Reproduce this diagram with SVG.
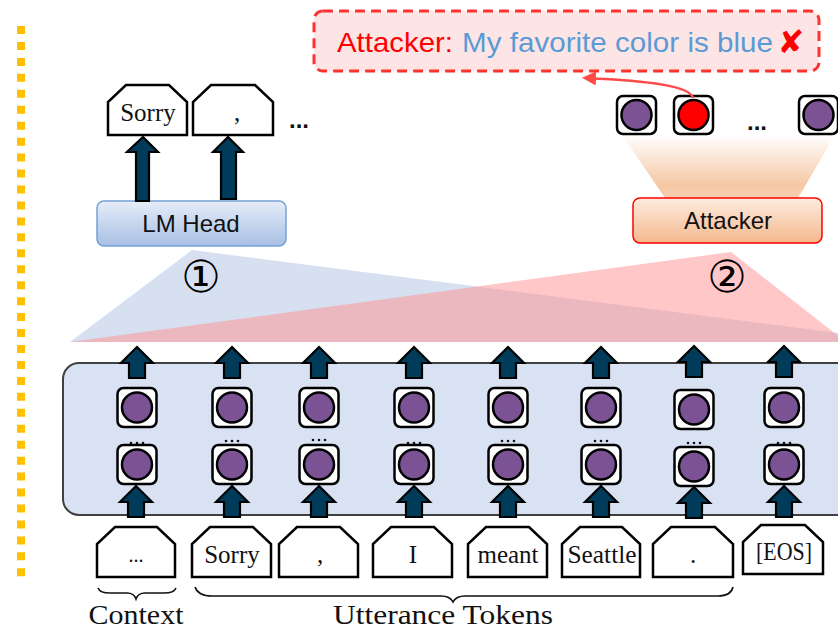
<svg xmlns="http://www.w3.org/2000/svg" width="838" height="631" viewBox="0 0 838 631">
  <defs>
    <linearGradient id="gHead" x1="0" y1="0" x2="0" y2="1">
      <stop offset="0" stop-color="#e6edf8"/>
      <stop offset="1" stop-color="#a7bfe4"/>
    </linearGradient>
    <linearGradient id="gAtk" x1="0" y1="0" x2="0" y2="1">
      <stop offset="0" stop-color="#fdece0"/>
      <stop offset="1" stop-color="#f4b88c"/>
    </linearGradient>
    <linearGradient id="gFan" x1="0" y1="0" x2="0" y2="1">
      <stop offset="0" stop-color="#ffffff"/>
      <stop offset="0.8" stop-color="#f5c7a4"/>
      <stop offset="1" stop-color="#f6cfb2"/>
    </linearGradient>
    <marker id="redHead" markerWidth="14" markerHeight="14" refX="10" refY="7" orient="auto" markerUnits="userSpaceOnUse">
      <path d="M0,0 L14,7 L0,14 Z" fill="#ff4a4a"/>
    </marker>
    <!-- vertical block arrow, tip at 0,0, pointing up -->
    <path id="upArrow" d="M0,0 L16,16 L8,16 L8,31 L-8,31 L-8,16 L-16,16 Z"/>
  </defs>
  <style>
    .node-sq { fill: #ffffff; stroke: #000; stroke-width: 2.5; }
    .unit { fill: #7b5294; stroke: #000; stroke-width: 2.5; }
    .unit-red { fill: #ff0000; stroke: #000; stroke-width: 2.5; }
    .tag { fill: #ffffff; stroke: #000; stroke-width: 2.5; stroke-linejoin: miter; }
    .blk { fill: #003c5a; stroke: #000; stroke-width: 2.2; stroke-linejoin: miter; }
    .serif { font-family: "Liberation Serif", "DejaVu Serif", serif; fill: #111; }
    .sans { font-family: "Liberation Sans", Arial, sans-serif; fill: #111; }
    .dots { font-family: "Liberation Sans", Arial, sans-serif; font-weight: bold; fill: #111; }
    .brace { fill: none; stroke: #111; stroke-width: 1.6; }
    .tiny { fill: #111; }
    .num { font-family: "DejaVu Sans", sans-serif; font-size: 44px; fill: #000; }
  </style>

  <!-- dotted separator on the left -->
  <line x1="21" y1="26" x2="21" y2="577" stroke="#ffc000" stroke-width="8" stroke-dasharray="8 7.95"/>

  <!-- projection fans from the encoder to the heads -->
  <g id="fans">
    <polygon points="70,342 192,250 838,333 838,342" fill="#d7e0f1"/>
    <polygon points="70,342 731,252 846,342" fill="#ff8f8f" fill-opacity="0.5"/>
    <text class="num" x="201" y="292" text-anchor="middle">①</text>
    <text class="num" x="727" y="292" text-anchor="middle">②</text>
  </g>

  <!-- encoder block -->
  <g id="encoder">
    <rect x="63" y="363" width="800" height="152" rx="16" fill="#d9e2f3" stroke="#404040" stroke-width="2"/>
  </g>

  <!-- hidden-state units: two rows per token -->
  <g id="units">
    <g id="col1" transform="translate(137,0)">
      <rect class="node-sq" x="-19.5" y="388" width="39" height="39" rx="6"/><circle class="unit" cx="0" cy="407.5" r="15"/>
      <circle class="tiny" cx="-6" cy="443" r="1.3"/><circle class="tiny" cx="0" cy="443" r="1.3"/><circle class="tiny" cx="6" cy="443" r="1.3"/>
      <rect class="node-sq" x="-19.5" y="445" width="39" height="39" rx="6"/><circle class="unit" cx="0" cy="464.5" r="15"/>
    </g>
    <g id="col2" transform="translate(232,0)">
      <rect class="node-sq" x="-19.5" y="388" width="39" height="39" rx="6"/><circle class="unit" cx="0" cy="407.5" r="15"/>
      <circle class="tiny" cx="-6" cy="441" r="1.3"/><circle class="tiny" cx="0" cy="441" r="1.3"/><circle class="tiny" cx="6" cy="441" r="1.3"/>
      <rect class="node-sq" x="-19.5" y="445" width="39" height="39" rx="6"/><circle class="unit" cx="0" cy="464.5" r="15"/>
    </g>
    <g id="col3" transform="translate(319,0)">
      <rect class="node-sq" x="-19.5" y="388" width="39" height="39" rx="6"/><circle class="unit" cx="0" cy="407.5" r="15"/>
      <circle class="tiny" cx="-6" cy="440" r="1.3"/><circle class="tiny" cx="0" cy="440" r="1.3"/><circle class="tiny" cx="6" cy="440" r="1.3"/>
      <rect class="node-sq" x="-19.5" y="445" width="39" height="39" rx="6"/><circle class="unit" cx="0" cy="464.5" r="15"/>
    </g>
    <g id="col4" transform="translate(414,0)">
      <rect class="node-sq" x="-19.5" y="388" width="39" height="39" rx="6"/><circle class="unit" cx="0" cy="407.5" r="15"/>
      <circle class="tiny" cx="-6" cy="443" r="1.3"/><circle class="tiny" cx="0" cy="443" r="1.3"/><circle class="tiny" cx="6" cy="443" r="1.3"/>
      <rect class="node-sq" x="-19.5" y="445" width="39" height="39" rx="6"/><circle class="unit" cx="0" cy="464.5" r="15"/>
    </g>
    <g id="col5" transform="translate(508,0)">
      <rect class="node-sq" x="-19.5" y="388" width="39" height="39" rx="6"/><circle class="unit" cx="0" cy="407.5" r="15"/>
      <circle class="tiny" cx="-6" cy="441" r="1.3"/><circle class="tiny" cx="0" cy="441" r="1.3"/><circle class="tiny" cx="6" cy="441" r="1.3"/>
      <rect class="node-sq" x="-19.5" y="445" width="39" height="39" rx="6"/><circle class="unit" cx="0" cy="464.5" r="15"/>
    </g>
    <g id="col6" transform="translate(601,0)">
      <rect class="node-sq" x="-19.5" y="388" width="39" height="39" rx="6"/><circle class="unit" cx="0" cy="407.5" r="15"/>
      <circle class="tiny" cx="-6" cy="441" r="1.3"/><circle class="tiny" cx="0" cy="441" r="1.3"/><circle class="tiny" cx="6" cy="441" r="1.3"/>
      <rect class="node-sq" x="-19.5" y="445" width="39" height="39" rx="6"/><circle class="unit" cx="0" cy="464.5" r="15"/>
    </g>
    <g id="col7" transform="translate(694,0)">
      <rect class="node-sq" x="-19.5" y="390" width="39" height="39" rx="6"/><circle class="unit" cx="0" cy="409.5" r="15"/>
      <circle class="tiny" cx="-6" cy="443" r="1.3"/><circle class="tiny" cx="0" cy="443" r="1.3"/><circle class="tiny" cx="6" cy="443" r="1.3"/>
      <rect class="node-sq" x="-19.5" y="447" width="39" height="39" rx="6"/><circle class="unit" cx="0" cy="466.5" r="15"/>
    </g>
    <g id="col8" transform="translate(784,0)">
      <rect class="node-sq" x="-19.5" y="388" width="39" height="39" rx="6"/><circle class="unit" cx="0" cy="407.5" r="15"/>
      <circle class="tiny" cx="-6" cy="443" r="1.3"/><circle class="tiny" cx="0" cy="443" r="1.3"/><circle class="tiny" cx="6" cy="443" r="1.3"/>
      <rect class="node-sq" x="-19.5" y="445" width="39" height="39" rx="6"/><circle class="unit" cx="0" cy="464.5" r="15"/>
    </g>
  </g>

  <!-- input tokens -->
  <g id="tokens">
    <g id="tok-context">
      <path class="tag" d="M97,577 V544 L115,527 H157 L175,544 V577 Z"/>
      <text class="serif" x="136" y="562" font-size="20" text-anchor="middle">...</text>
    </g>
    <g id="tok-sorry">
      <path class="tag" d="M192,577 V544 L210,527 H253 L271,544 V577 Z"/>
      <text class="serif" x="232" y="563" font-size="25" text-anchor="middle">Sorry</text>
    </g>
    <g id="tok-comma">
      <path class="tag" d="M279,577 V544 L297,527 H340 L358,544 V577 Z"/>
      <text class="serif" x="320" y="563" font-size="25" text-anchor="middle">,</text>
    </g>
    <g id="tok-i">
      <path class="tag" d="M373,577 V544 L391,527 H434 L452,544 V577 Z"/>
      <text class="serif" x="413" y="563" font-size="25" text-anchor="middle">I</text>
    </g>
    <g id="tok-meant">
      <path class="tag" d="M468,577 V544 L486,527 H529 L547,544 V577 Z"/>
      <text class="serif" x="508" y="563" font-size="25" text-anchor="middle">meant</text>
    </g>
    <g id="tok-seattle">
      <path class="tag" d="M562,577 V544 L580,527 H622 L640,544 V577 Z"/>
      <text class="serif" x="602" y="563" font-size="25" text-anchor="middle" textLength="69" lengthAdjust="spacingAndGlyphs">Seattle</text>
    </g>
    <g id="tok-period">
      <path class="tag" d="M653,577 V544 L671,527 H715 L733,544 V577 Z"/>
      <text class="serif" x="693" y="563" font-size="25" text-anchor="middle">.</text>
    </g>
    <g id="tok-eos">
      <path class="tag" d="M743,574 V542 L761,525 H805 L823,542 V574 Z"/>
      <text class="serif" x="784" y="560" font-size="25" text-anchor="middle" textLength="56" lengthAdjust="spacingAndGlyphs">[EOS]</text>
    </g>
  </g>

  <!-- braces and group labels -->
  <g id="labels">
    <path class="brace" d="M98,588 Q100,593 110,593 H127 Q134,593 136,599 Q138,593 145,593 H164 Q174,593 176,588"/>
    <text class="serif" x="136" y="624" font-size="28" text-anchor="middle" textLength="95" lengthAdjust="spacingAndGlyphs">Context</text>
    <path class="brace" d="M195,587 Q198,596 212,596 H441 Q450,596 453,602 Q456,596 465,596 H718 Q731,596 733,587"/>
    <text class="serif" x="443" y="624" font-size="28" text-anchor="middle" textLength="220" lengthAdjust="spacingAndGlyphs">Utterance Tokens</text>
  </g>

  <!-- LM head and its outputs -->
  <g id="lm-head">
    <rect x="97" y="201" width="189" height="45" rx="7" fill="url(#gHead)" stroke="#76a1d4" stroke-width="1.5"/>
    <text class="sans" x="191" y="232" font-size="24" text-anchor="middle">LM Head</text>
  </g>
  <g id="out-sorry">
    <path class="tag" d="M108,135 V102 L126,85 H169 L187,102 V135 Z"/>
    <text class="serif" x="148" y="121" font-size="25" text-anchor="middle">Sorry</text>
  </g>
  <g id="out-comma">
    <path class="tag" d="M193,135 V102 L211,85 H255 L273,102 V135 Z"/>
    <text class="serif" x="237" y="121" font-size="25" text-anchor="middle">,</text>
  </g>
  <text class="dots" x="299" y="128" font-size="24" text-anchor="middle">...</text>

  <!-- attacker head and its outputs -->
  <g id="attacker">
    <polygon points="622,135 835,135 798,198 665,198" fill="url(#gFan)"/>
    <rect x="633" y="198" width="189" height="45" rx="7" fill="url(#gAtk)" stroke="#ff0000" stroke-width="1.5"/>
    <text class="sans" x="728" y="229" font-size="24" text-anchor="middle">Attacker</text>
  </g>
  <g id="atk-out">
    <rect class="node-sq" x="617" y="96" width="39" height="38" rx="6"/><circle class="unit" cx="636.5" cy="115" r="15"/>
    <rect class="node-sq" x="674" y="96" width="39" height="38" rx="6"/><circle class="unit-red" cx="693.5" cy="115" r="15"/>
    <text class="dots" x="757" y="130" font-size="24" text-anchor="middle">...</text>
    <rect class="node-sq" x="799" y="96" width="39" height="38" rx="6"/><circle class="unit" cx="818.5" cy="115" r="15"/>
  </g>

  <!-- reconstructed text callout -->
  <g id="callout">
    <rect x="314" y="11" width="505" height="60" rx="9" fill="#fde5e5" stroke="#ff3333" stroke-width="3" stroke-dasharray="10 6"/>
    <text x="337" y="52" font-family="Liberation Sans, Arial, sans-serif" font-size="28" fill="#ff0000" textLength="116" lengthAdjust="spacingAndGlyphs">Attacker:</text>
    <text x="462" y="52" font-family="Liberation Sans, Arial, sans-serif" font-size="28" fill="#5b9bd5" textLength="311" lengthAdjust="spacingAndGlyphs">My favorite color is blue</text>
    <text x="791" y="53" font-family="DejaVu Sans, sans-serif" font-size="32" font-weight="bold" fill="#ff0000" text-anchor="middle">✘</text>
  </g>

  <!-- connectors -->
  <g id="connectors">
    <!-- encoder inputs -->
    <use href="#upArrow" class="blk" x="136" y="486"/>
    <use href="#upArrow" class="blk" x="232" y="486"/>
    <use href="#upArrow" class="blk" x="319" y="486"/>
    <use href="#upArrow" class="blk" x="414" y="486"/>
    <use href="#upArrow" class="blk" x="508" y="486"/>
    <use href="#upArrow" class="blk" x="601" y="486"/>
    <use href="#upArrow" class="blk" x="694" y="487"/>
    <use href="#upArrow" class="blk" x="784" y="486"/>
    <!-- encoder outputs -->
    <use href="#upArrow" class="blk" x="137" y="347"/>
    <use href="#upArrow" class="blk" x="232" y="347"/>
    <use href="#upArrow" class="blk" x="319" y="347"/>
    <use href="#upArrow" class="blk" x="414" y="347"/>
    <use href="#upArrow" class="blk" x="508" y="347"/>
    <use href="#upArrow" class="blk" x="601" y="347"/>
    <use href="#upArrow" class="blk" x="694" y="346"/>
    <use href="#upArrow" class="blk" x="784" y="346"/>
    <!-- LM head to output tokens -->
    <path class="blk" d="M143,137 L158,152 L149,152 L149,201 L136,201 L136,152 L127,152 Z"/>
    <path class="blk" d="M228,137 L243,152 L236,152 L236,199 L221,199 L221,152 L213,152 Z"/>
    <!-- attacker output to callout -->
    <path d="M693,98 C690,86 650,81 586,78" fill="none" stroke="#ff4a4a" stroke-width="2.5" marker-end="url(#redHead)"/>
  </g>
</svg>
